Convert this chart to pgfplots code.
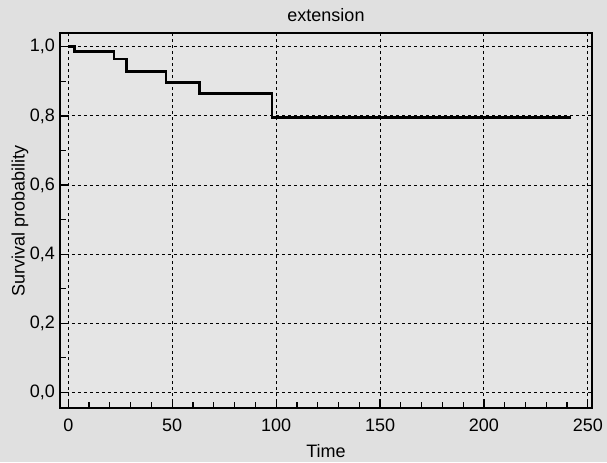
\documentclass[border=0pt]{standalone}
\usepackage{pgfplots}
\pgfplotsset{compat=1.18}
\usepackage{fontspec}
\setmainfont{Liberation Sans}
\usetikzlibrary{backgrounds}
\begin{document}
\begin{tikzpicture}
\begin{axis}[
  name=ax,
  scale only axis,
  width=266pt, height=187.5pt,
  xmin=-4, xmax=252, ymin=-0.045, ymax=1.04,
  xtick={0,50,100,150,200,250},
  minor x tick num=4,
  ytick={0,0.2,0.4,0.6,0.8,1.0},
  minor y tick num=1,
  yticklabel style={/pgf/number format/fixed, /pgf/number format/fixed zerofill, /pgf/number format/precision=1, /pgf/number format/use comma, xshift=1pt},
  /pgf/number format/assume math mode=true,
  tick align=inside,
  tick style={black, line width=0.6pt},
  major tick length=4.5pt, minor tick length=3pt,
  xtick pos=bottom, ytick pos=left,
  grid=major,
  major grid style={dash pattern=on 1.5pt off 1.5pt, black, line width=0.5pt},
  axis line style={line width=1.4pt},
  font=\fontsize{9}{11}\selectfont,
  title={extension},
  every axis title shift=0pt,
  every axis title/.style={at={(0.5,1)}, anchor=center, yshift=9pt},
  xlabel={Time},
  ylabel={Survival probability},
  every axis x label/.style={at={(0.5,0)}, anchor=center, yshift=-21.5pt},
  every axis y label/.style={at={(0,0.5)}, rotate=90, anchor=center, yshift=20pt},
  xticklabel style={yshift=-2pt},
  axis background/.style={fill=black!10},
]
\addplot[const plot, line width=1.4pt, black] coordinates {
(0,1.0) (3,0.986) (22,0.965) (28,0.928) (47,0.897) (63,0.866) (98,0.795) (242,0.795)
};
\end{axis}
\pgfresetboundingbox
\useasboundingbox ([shift={(-30pt,-27pt)}]ax.south west) rectangle ([shift={(7.5pt,16.5pt)}]ax.north east);
\begin{scope}[on background layer]
\fill[black!12] ([shift={(-30pt,-27pt)}]ax.south west) rectangle ([shift={(7.5pt,16.5pt)}]ax.north east);
\end{scope}
\end{tikzpicture}
\end{document}
